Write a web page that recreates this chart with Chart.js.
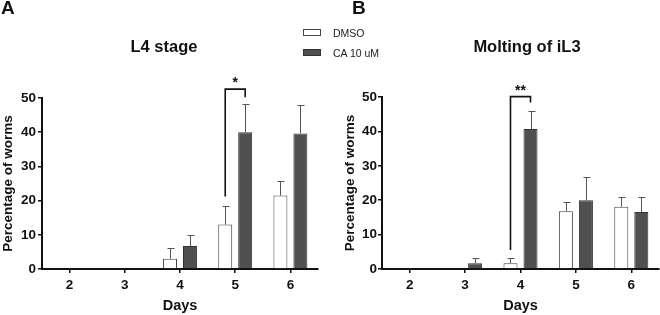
<!DOCTYPE html>
<html>
<head>
<meta charset="utf-8">
<script src="https://cdn.jsdelivr.net/npm/chart.js@4.4.1/dist/chart.umd.min.js"></script>
<style>
  html, body { margin: 0; padding: 0; background: #fff; }
  body { width: 660px; height: 315px; position: relative; overflow: hidden;
         font-family: "Liberation Sans", Arial, sans-serif; color: #111; }
  .panel { position: absolute; top: 0; width: 330px; height: 315px; }
  .letter { position: absolute; font-weight: bold; font-size: 19px; line-height: 19px; }
  .title { position: absolute; width: 200px; text-align: center; font-weight: bold;
           font-size: 16.5px; line-height: 16px; white-space: nowrap; }
  .swatch { position: absolute; width: 16px; height: 5px; border: 1px solid #444; }
  .legtext { position: absolute; font-size: 10.5px; line-height: 10px; color: #1a1a1a; }
</style>
</head>
<body>
<div class="panel" style="left:0"><canvas id="chartA" width="330" height="315"></canvas></div>
<div class="panel" style="left:330px"><canvas id="chartB" width="330" height="315"></canvas></div>

<div class="letter" style="left:1px;top:-2px">A</div>
<div class="letter" style="left:352px;top:-2px">B</div>
<div class="title" style="left:64px;top:38px">L4 stage</div>
<div class="title" style="left:427px;top:38px">Molting of iL3</div>

<div class="swatch" style="left:303px;top:29px;background:#fff"></div>
<div class="swatch" style="left:303px;top:49px;background:#505050;border-color:#333"></div>
<div class="legtext" style="left:333px;top:28px">DMSO</div>
<div class="legtext" style="left:333px;top:48px">CA 10 uM</div>

<script>
// Days on the x axis
const days = ['2', '3', '4', '5', '6'];

// Panel A - L4 stage (mean and SEM)
const l4Dmso = [0, 0, 3.0, 13.0, 21.5];
const l4DmsoErr = [0, 0, 3.0, 5.3, 4.1];
const l4Ca = [0, 0, 6.7, 40.0, 39.6];
const l4CaErr = [0, 0, 3.1, 8.1, 8.4];

// Panel B - molting of iL3
const moltDmso = [0, 0, 1.7, 16.8, 18.1];
const moltDmsoErr = [0, 0, 1.5, 2.7, 2.9];
const moltCa = [0, 1.7, 40.7, 20.0, 16.6];
const moltCaErr = [0, 1.6, 5.3, 6.8, 4.4];

// Significance brackets: day index, left foot, top, right foot, label
const sigA = { index: 3, left: 21.2, top: 52.6, right: 50.2, label: '*' };
const sigB = { index: 2, left: 5.5, top: 50.1, right: 48.4, label: '**' };

const yTicks = [0, 10, 20, 30, 40, 50];

const FONT = '"Liberation Sans", Arial, sans-serif';
const INK = '#111';

// error bars (upper only, with cap)
const errorBarPlugin = {
    id: 'errorBars',
    afterDatasetsDraw(chart) {
        const ctx = chart.ctx;
        const y = chart.scales.y;
        chart.data.datasets.forEach((ds, i) => {
            const meta = chart.getDatasetMeta(i);
            meta.data.forEach((bar, j) => {
                const err = ds.errors[j];
                if (!err) return;
                const x = Math.round(bar.x) + 0.5;
                const top = Math.round(y.getPixelForValue(ds.data[j] + err)) + 0.5;
                ctx.save();
                ctx.strokeStyle = '#555';
                ctx.lineWidth = 1;
                ctx.beginPath();
                ctx.moveTo(x, bar.y);
                ctx.lineTo(x, top);
                ctx.moveTo(x - 3, top);
                ctx.lineTo(x + 4, top);
                ctx.stroke();
                ctx.restore();
            });
        });
    }
};

// bracket with asterisks between the two bars of one day
const bracketPlugin = {
    id: 'sigBracket',
    afterDraw(chart, args, opts) {
        if (!opts || opts.index === undefined) return;
        const ctx = chart.ctx;
        const y = chart.scales.y;
        const x0 = chart.getDatasetMeta(0).data[opts.index].x;
        const x1 = chart.getDatasetMeta(1).data[opts.index].x;
        const yTop = y.getPixelForValue(opts.top);
        ctx.save();
        ctx.strokeStyle = INK;
        ctx.lineWidth = 1.6;
        ctx.beginPath();
        ctx.moveTo(x0, y.getPixelForValue(opts.left));
        ctx.lineTo(x0, yTop);
        ctx.lineTo(x1, yTop);
        ctx.lineTo(x1, y.getPixelForValue(opts.right));
        ctx.stroke();
        ctx.fillStyle = INK;
        ctx.font = 'bold 14px ' + FONT;
        ctx.textAlign = 'center';
        ctx.textBaseline = 'bottom';
        ctx.fillText(opts.label, (x0 + x1) / 2, yTop + 1);
        ctx.restore();
    }
};

function makeChart(id, dmso, dmsoErr, ca, caErr, sig, axisWidth, padTop, padRight, yTitlePad, yTickPad) {
    const ctx = document.getElementById(id).getContext('2d');
    return new Chart(ctx, {
        type: 'bar',
        data: {
            labels: days,
            datasets: [
                {
                    label: 'DMSO',
                    data: dmso,
                    errors: dmsoErr,
                    backgroundColor: '#ffffff',
                    borderColor: '#444',
                    borderWidth: 1,
                    categoryPercentage: 0.723,
                    barPercentage: 0.7
                },
                {
                    label: 'CA 10 uM',
                    data: ca,
                    errors: caErr,
                    backgroundColor: '#505050',
                    borderColor: '#333',
                    borderWidth: 1,
                    categoryPercentage: 0.723,
                    barPercentage: 0.7
                }
            ]
        },
        options: {
            responsive: false,
            animation: false,
            layout: { padding: { top: padTop, right: padRight, left: 0, bottom: 0 } },
            scales: {
                x: {
                    grid: { offset: false, drawOnChartArea: false, tickLength: 4, color: INK, lineWidth: 1.5 },
                    border: { color: INK, width: 2 },
                    ticks: { color: INK, padding: 4, font: { family: FONT, size: 13.5, weight: 'bold' } },
                    title: {
                        display: true, text: 'Days', color: INK,
                        font: { family: FONT, size: 14.5, weight: 'bold' },
                        padding: { top: 0, bottom: 0 }
                    },
                    afterFit(s) { s.height = 46; }
                },
                y: {
                    min: 0,
                    max: 50,
                    afterBuildTicks(s) { s.ticks = yTicks.map(v => ({ value: v })); },
                    grid: { drawOnChartArea: false, tickLength: 4, color: INK, lineWidth: 1.5 },
                    border: { color: INK, width: 2 },
                    ticks: { color: INK, padding: yTickPad, font: { family: FONT, size: 13.5, weight: 'bold' } },
                    title: {
                        display: true, text: 'Percentage of worms', color: INK,
                        font: { family: FONT, size: 13.5, weight: 'bold' },
                        padding: { top: yTitlePad, bottom: 0 }
                    },
                    afterFit(s) { s.width = axisWidth; }
                }
            },
            plugins: {
                legend: { display: false },
                tooltip: { enabled: false },
                sigBracket: sig
            }
        },
        plugins: [errorBarPlugin, bracketPlugin]
    });
}

makeChart('chartA', l4Dmso, l4DmsoErr, l4Ca, l4CaErr, sigA, 42, 98, 12, 0, 2);
makeChart('chartB', moltDmso, moltDmsoErr, moltCa, moltCaErr, sigB, 52, 97, 1, 12, 1);
</script>
</body>
</html>
